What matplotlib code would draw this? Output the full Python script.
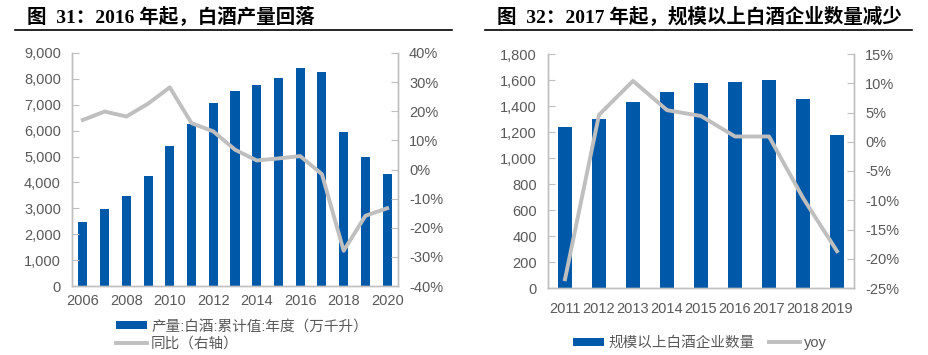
import matplotlib.pyplot as plt
from matplotlib.ticker import FuncFormatter

plt.rcParams['font.family'] = ['Liberation Sans', 'Noto Sans CJK SC', 'DejaVu Sans']

# Left chart: baijiu output
years_a = list(range(2006, 2021))
output_a = [2480, 2960, 3470, 4260, 5420, 6270, 7080, 7540, 7780, 8050, 8410, 8250, 5960, 5000, 4340]
yoy_a = [17.0, 19.9, 18.2, 22.6, 28.2, 15.9, 13.1, 6.8, 3.1, 3.8, 4.6, -1.6, -27.9, -15.9, -13.3]

# Right chart: number of enterprises above designated size
years_b = list(range(2011, 2020))
firms_b = [1237, 1298, 1434, 1508, 1575, 1585, 1600, 1454, 1180]
yoy_b = [-23.5, 4.6, 10.4, 5.4, 4.4, 0.9, 0.9, -9.6, -18.7]

title_a = '图  31：2016 年起，白酒产量回落'
title_b = '图  32：2017 年起，规模以上白酒企业数量减少'

BLUE = '#0058A8'
GRAY_LINE = '#BFBFBF'
TXT = '#595959'
SPINE = '#BFBFBF'

W, H = 929, 355
fig = plt.figure(figsize=(W / 100, H / 100), dpi=100)


def box(x0, y0, x1, y1):
    return [x0 / W, 1 - y1 / H, (x1 - x0) / W, (y1 - y0) / H]


def style(ax, ax2):
    for a in (ax, ax2):
        a.spines['top'].set_visible(False)
        for s in ('left', 'right', 'bottom'):
            a.spines[s].set_color(SPINE)
            a.spines[s].set_linewidth(1)
    ax.tick_params(axis='y', direction='in', length=5, color=SPINE, labelcolor=TXT, labelsize=10.5, pad=8)
    ax2.tick_params(axis='y', direction='in', length=5, color=SPINE, labelcolor=TXT, labelsize=10.5, pad=8)
    ax.tick_params(axis='x', length=0, labelcolor=TXT, labelsize=10.5)


title_font = dict(family=['Liberation Serif', 'Noto Sans CJK SC'], weight='bold', size=14, color='black')
leg_kw = dict(frameon=False, fontsize=10.5, labelcolor=TXT, handlelength=2.1, handleheight=0.5,
              handletextpad=0.3)

# ---- left ----
fig.text(27 / W, 1 - 16 / H, title_a, ha='left', va='center', **title_font)
fig.add_artist(plt.Line2D([15 / W, 452 / W], [1 - 30 / H, 1 - 30 / H], color='black', lw=1.2))

ax = fig.add_axes(box(72, 53, 398, 286))
ax2 = ax.twinx()
ax.bar(years_a, output_a, width=0.42, color=BLUE, label='产量:白酒:累计值:年度（万千升）')
ax2.plot(years_a, yoy_a, color=GRAY_LINE, lw=2.8, label='同比（右轴）')
ax.set_xlim(2005.5, 2020.5)
ax.set_ylim(0, 9000)
ax.set_yticks(range(0, 9001, 1000))
ax.yaxis.set_major_formatter(FuncFormatter(lambda v, p: f'{int(v):,}'))
ax.set_xticks(range(2006, 2021, 2))
ax2.set_ylim(-40, 40)
ax2.set_yticks(range(-40, 41, 10))
ax2.yaxis.set_major_formatter(FuncFormatter(lambda v, p: f'{int(v)}%'))
style(ax, ax2)
ax.tick_params(axis='x', pad=6)
h1, l1 = ax.get_legend_handles_labels()
h2, l2 = ax2.get_legend_handles_labels()
fig.legend(h1 + h2, l1 + l2, loc='center', bbox_to_anchor=(242 / W, 1 - 335 / H), ncol=1,
           labelspacing=0.25, **leg_kw)

# ---- right ----
fig.text(497 / W, 1 - 16 / H, title_b, ha='left', va='center', **title_font)
fig.add_artist(plt.Line2D([485 / W, 912 / W], [1 - 30 / H, 1 - 30 / H], color='black', lw=1.2))

bx = fig.add_axes(box(548, 54, 854, 288))
bx2 = bx.twinx()
bx.bar(range(len(years_b)), firms_b, width=0.44, color=BLUE, label='规模以上白酒企业数量')
bx2.plot(range(len(years_b)), yoy_b, color=GRAY_LINE, lw=2.8, label='yoy')
bx.set_xlim(-0.5, len(years_b) - 0.5)
bx.set_xticks(range(len(years_b)))
bx.set_xticklabels([str(y) for y in years_b])
bx.set_ylim(0, 1800)
bx.set_yticks(range(0, 1801, 200))
bx.yaxis.set_major_formatter(FuncFormatter(lambda v, p: f'{int(v):,}'))
bx2.set_ylim(-25, 15)
bx2.set_yticks(range(-25, 16, 5))
bx2.yaxis.set_major_formatter(FuncFormatter(lambda v, p: f'{int(v)}%'))
style(bx, bx2)
bx.tick_params(axis='x', pad=10)
h1, l1 = bx.get_legend_handles_labels()
h2, l2 = bx2.get_legend_handles_labels()
fig.legend(h1 + h2, l1 + l2, loc='center', bbox_to_anchor=(700 / W, 1 - 343 / H), ncol=2,
           columnspacing=1.0, **leg_kw)

fig.savefig('out.png', dpi=100)
